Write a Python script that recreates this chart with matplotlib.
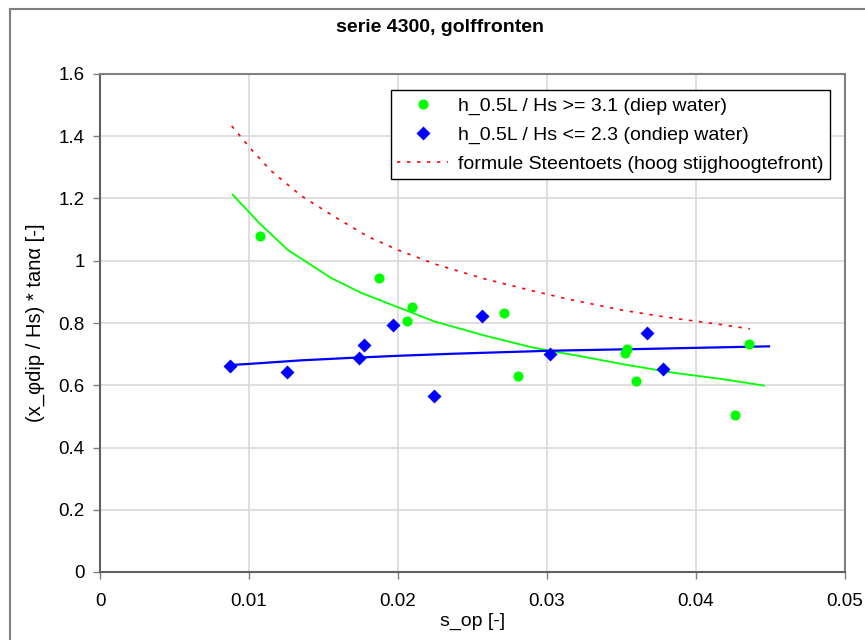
import numpy as np
from matplotlib import pyplot as plt
from matplotlib.lines import Line2D

plt.rcParams["font.family"] = ["Liberation Sans", "DejaVu Sans"]

# meetpunten, diep water (h_0.5L / Hs >= 3.1)
s_diep = [0.01074, 0.01872, 0.02094, 0.0206, 0.0271, 0.02805, 0.03523, 0.0354, 0.0360, 0.0426, 0.04356]
y_diep = [1.080, 0.945, 0.853, 0.808, 0.833, 0.631, 0.705, 0.715, 0.615, 0.506, 0.731]

# meetpunten, ondiep water (h_0.5L / Hs <= 2.3)
s_ondiep = [0.00872, 0.01255, 0.01738, 0.01772, 0.01966, 0.02242, 0.02564, 0.0302, 0.0367, 0.0378]
y_ondiep = [0.663, 0.644, 0.686, 0.728, 0.795, 0.567, 0.824, 0.702, 0.769, 0.651]

# trendlijnen
s_trend_diep = [0.00891, 0.01069, 0.01260, 0.01550, 0.01752, 0.01998, 0.02244, 0.02579, 0.02915,
                0.03228, 0.03517, 0.03852, 0.04188, 0.04456]
y_trend_diep = [1.212, 1.121, 1.035, 0.945, 0.897, 0.851, 0.805, 0.760, 0.720,
                0.693, 0.667, 0.640, 0.619, 0.599]

s_trend_ondiep = [0.00875, 0.01013, 0.01349, 0.01685, 0.02020, 0.02356, 0.02691, 0.03027,
                  0.03584, 0.04079, 0.0449]
y_trend_ondiep = [0.665, 0.669, 0.680, 0.688, 0.695, 0.701, 0.706, 0.711,
                  0.716, 0.721, 0.725]

# formule Steentoets
s_formule = [0.00884, 0.01013, 0.01148, 0.01349, 0.01572, 0.01797, 0.01998, 0.02244, 0.02579,
             0.02915, 0.03139, 0.03519, 0.03854, 0.04168, 0.04362]
y_formule = [1.433, 1.359, 1.289, 1.209, 1.142, 1.078, 1.035, 0.990, 0.942,
             0.902, 0.877, 0.840, 0.815, 0.795, 0.781]

fig = plt.figure(figsize=(8.65, 6.4), dpi=100)
ax = fig.add_axes([100 / 865, 1 - 572 / 640, 745 / 865, 498 / 640])

ax.plot(s_trend_diep, y_trend_diep, color="#00ff00", lw=1.3, zorder=3)
ax.plot(s_trend_ondiep, y_trend_ondiep, color="#0000ff", lw=1.6, zorder=3)
ax.plot(s_formule, y_formule, color="#ff0000", lw=1.2, ls=(0, (2, 4)), zorder=3)

ax.plot(s_diep, y_diep, "o", color="#00ff00", ms=7.3, mec="none", zorder=4)
ax.plot(s_ondiep, y_ondiep, "D", color="#0000ff", ms=7, mec="none", zorder=4)

ax.set_xlim(0, 0.05)
ax.set_ylim(0, 1.6)
ax.set_xticks(np.arange(0, 0.051, 0.01))
ax.set_xticklabels(["0", "0.01", "0.02", "0.03", "0.04", "0.05"])
ax.set_yticks(np.arange(0, 1.61, 0.2))
ax.set_yticklabels(["0", "0.2", "0.4", "0.6", "0.8", "1", "1.2", "1.4", "1.6"])
ax.grid(True, color="#d9d9d9", lw=1.2)
ax.set_axisbelow(True)
ax.tick_params(labelsize=13.5, length=5, width=1, color="#808080")
ax.tick_params(axis="x", pad=10)
ax.tick_params(axis="y", pad=6)

for side in ["left", "bottom", "top", "right"]:
    ax.spines[side].set_color("#808080")
    ax.spines[side].set_linewidth(1.5)
ax.spines["left"].set_color("#606060")
ax.spines["bottom"].set_color("#606060")

ax.set_xlabel("s_op [-]", fontsize=14, labelpad=2)
ax.set_ylabel("(x_φdip / Hs) * tanα [-]", fontsize=14.5, labelpad=10)
fig.text(440 / 865, 1 - 27 / 640, "serie 4300, golffronten", ha="center", va="center",
         fontsize=14, fontweight="bold")

handles = [
    Line2D([], [], ls="none", marker="o", color="#00ff00", ms=7.3, mec="none"),
    Line2D([], [], ls="none", marker="D", color="#0000ff", ms=7, mec="none"),
    Line2D([], [], color="#ff0000", lw=1.2, ls=(0, (2, 4))),
]
labels = [
    "h_0.5L / Hs >= 3.1 (diep water)",
    "h_0.5L / Hs <= 2.3 (ondiep water)",
    "formule Steentoets (hoog stijghoogtefront)",
]
leg = ax.legend(handles, labels, loc="upper right", bbox_to_anchor=(830 / 865, 1 - 90 / 640),
                bbox_transform=fig.transFigure, fontsize=14, frameon=True, fancybox=False,
                edgecolor="black", framealpha=1, borderaxespad=0, handlelength=2.6,
                labelspacing=0.58, borderpad=0.35, handletextpad=0.5)
leg.get_frame().set_linewidth(1.0)

# rand van het grafiekgebied
fig.add_artist(Line2D([10 / 865, 10 / 865], [0, 1 - 9 / 640], color="#808080", lw=1.5))
fig.add_artist(Line2D([10 / 865, 1], [1 - 9 / 640, 1 - 9 / 640], color="#808080", lw=1.5))

fig.savefig("out.png", dpi=100)
